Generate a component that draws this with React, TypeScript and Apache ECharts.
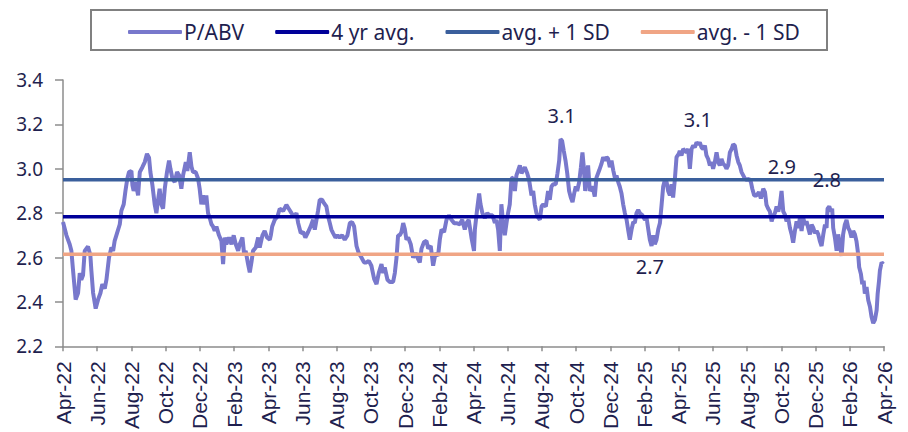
import React, { useEffect, useRef } from "react";
import * as echarts from "echarts";

// x tick labels (every two months, Apr-22 .. Apr-26)
const tickLabels = [
  "Apr-22", "Jun-22", "Aug-22", "Oct-22", "Dec-22", "Feb-23", "Apr-23", "Jun-23",
  "Aug-23", "Oct-23", "Dec-23", "Feb-24", "Apr-24", "Jun-24", "Aug-24", "Oct-24",
  "Dec-24", "Feb-25", "Apr-25", "Jun-25", "Aug-25", "Oct-25", "Dec-25", "Feb-26", "Apr-26",
];

// P/ABV: [months since Apr-22, value]
const pabv: [number, number][] = [
  [0, 2.76], [0.2, 2.7], [0.39, 2.66], [0.49, 2.63], [0.59, 2.54], [0.74, 2.41], [0.88, 2.44],
  [0.98, 2.53], [1.07, 2.5], [1.17, 2.52], [1.27, 2.63], [1.46, 2.65], [1.6, 2.61], [1.66, 2.54],
  [1.76, 2.44], [1.91, 2.37], [2.05, 2.41], [2.19, 2.44], [2.3, 2.48], [2.44, 2.46], [2.54, 2.5],
  [2.69, 2.6], [2.83, 2.645], [2.93, 2.63], [3.02, 2.675], [3.12, 2.7], [3.32, 2.75], [3.41, 2.81],
  [3.55, 2.84], [3.65, 2.9], [3.76, 2.955], [3.86, 2.985], [4.0, 2.99], [4.06, 2.925], [4.13, 2.9],
  [4.25, 2.94], [4.39, 2.88], [4.49, 2.985], [4.64, 3.007], [4.78, 3.03], [4.91, 3.067], [5.03, 3.05],
  [5.11, 2.985], [5.23, 2.925], [5.36, 2.84], [5.46, 2.8], [5.56, 2.86], [5.65, 2.91], [5.75, 2.84],
  [5.85, 2.82], [5.95, 2.91], [6.08, 2.985], [6.2, 3.037], [6.28, 3.0], [6.4, 2.955], [6.53, 2.94],
  [6.67, 2.985], [6.79, 2.97], [6.92, 2.91], [7.02, 2.97], [7.18, 3.03], [7.27, 2.99], [7.41, 3.074],
  [7.51, 3.01], [7.6, 2.985], [7.76, 2.985], [7.9, 2.955], [7.99, 2.91], [8.09, 2.84], [8.19, 2.88],
  [8.29, 2.84], [8.38, 2.88], [8.48, 2.8], [8.58, 2.778], [8.68, 2.75], [8.77, 2.74], [8.87, 2.72],
  [8.97, 2.74], [9.12, 2.7], [9.26, 2.675], [9.36, 2.57], [9.46, 2.69], [9.55, 2.66], [9.71, 2.69],
  [9.85, 2.66], [9.98, 2.7], [10.1, 2.66], [10.24, 2.63], [10.33, 2.66], [10.49, 2.69], [10.59, 2.615],
  [10.68, 2.63], [10.82, 2.57], [10.92, 2.533], [11.02, 2.58], [11.11, 2.63], [11.27, 2.645],
  [11.41, 2.69], [11.5, 2.645], [11.66, 2.7], [11.79, 2.72], [11.93, 2.69], [12.09, 2.68],
  [12.15, 2.7], [12.23, 2.74], [12.38, 2.77], [12.54, 2.785], [12.67, 2.82], [12.87, 2.81],
  [13.06, 2.837], [13.2, 2.82], [13.36, 2.8], [13.51, 2.785], [13.65, 2.8], [13.75, 2.755],
  [13.9, 2.71], [14.04, 2.715], [14.17, 2.69], [14.33, 2.715], [14.48, 2.74], [14.62, 2.77],
  [14.72, 2.726], [14.82, 2.77], [14.91, 2.81], [15.01, 2.86], [15.15, 2.86], [15.26, 2.845],
  [15.4, 2.83], [15.5, 2.785], [15.6, 2.755], [15.69, 2.726], [15.79, 2.71], [15.93, 2.69],
  [16.05, 2.7], [16.18, 2.69], [16.32, 2.7], [16.47, 2.68], [16.63, 2.7], [16.77, 2.755], [16.9, 2.76],
  [17.02, 2.74], [17.16, 2.652], [17.29, 2.62], [17.45, 2.6], [17.6, 2.578], [17.74, 2.578],
  [17.88, 2.585], [18.03, 2.563], [18.19, 2.504], [18.33, 2.48], [18.46, 2.53], [18.62, 2.57],
  [18.72, 2.53], [18.81, 2.555], [18.97, 2.5], [19.11, 2.49], [19.3, 2.49], [19.4, 2.53], [19.5, 2.6],
  [19.59, 2.7], [19.69, 2.7], [19.79, 2.715], [19.89, 2.755], [19.98, 2.73], [20.08, 2.68],
  [20.18, 2.69], [20.33, 2.66], [20.47, 2.6], [20.61, 2.62], [20.72, 2.6], [20.86, 2.578],
  [20.96, 2.64], [21.11, 2.67], [21.25, 2.675], [21.35, 2.64], [21.5, 2.652], [21.64, 2.563],
  [21.78, 2.62], [21.93, 2.608], [22.03, 2.68], [22.13, 2.726], [22.28, 2.715], [22.42, 2.77],
  [22.56, 2.79], [22.71, 2.77], [22.87, 2.755], [23.0, 2.755], [23.2, 2.75], [23.34, 2.77],
  [23.49, 2.726], [23.59, 2.755], [23.72, 2.77], [23.88, 2.69], [24.03, 2.63],
  [24.08, 2.726], [24.21, 2.815], [24.33, 2.889], [24.41, 2.84], [24.52, 2.8], [24.66, 2.778],
  [24.8, 2.8], [24.95, 2.79], [25.11, 2.79], [25.25, 2.756], [25.34, 2.77], [25.44, 2.726],
  [25.54, 2.63], [25.63, 2.84], [25.73, 2.756], [25.83, 2.7], [25.93, 2.756], [26.02, 2.8],
  [26.12, 2.84], [26.22, 2.956], [26.32, 2.96], [26.42, 2.9], [26.51, 2.97], [26.61, 2.993],
  [26.71, 3.015], [26.81, 2.98], [26.9, 2.993], [27.0, 3.007], [27.14, 2.98], [27.25, 2.95],
  [27.39, 2.88], [27.49, 2.9], [27.58, 2.84], [27.68, 2.8], [27.78, 2.78], [27.88, 2.77],
  [27.98, 2.83], [28.07, 2.84], [28.23, 2.83], [28.36, 2.9], [28.46, 2.86], [28.56, 2.92],
  [28.66, 2.93], [28.81, 2.93], [28.91, 2.98], [29.01, 3.037], [29.09, 3.133], [29.18, 3.126],
  [29.28, 3.08], [29.38, 3.037], [29.48, 2.98], [29.59, 2.9], [29.69, 2.87], [29.79, 2.85],
  [29.89, 2.89], [29.98, 2.92], [30.06, 2.9], [30.18, 2.94], [30.28, 3.007], [30.37, 3.074],
  [30.45, 3.007], [30.53, 2.9], [30.61, 2.97], [30.7, 3.015], [30.8, 2.9], [30.96, 2.92],
  [31.09, 2.875], [31.19, 2.96], [31.35, 2.993], [31.48, 3.022], [31.58, 3.052], [31.68, 3.037],
  [31.78, 3.052], [31.87, 3.045], [31.97, 3.007], [32.07, 3.037], [32.17, 2.993], [32.28, 2.955],
  [32.36, 2.97], [32.46, 2.94], [32.55, 2.92], [32.65, 2.89], [32.75, 2.84], [32.85, 2.8],
  [32.95, 2.77], [33.04, 2.726], [33.14, 2.681], [33.24, 2.726], [33.34, 2.76], [33.43, 2.756],
  [33.53, 2.8], [33.63, 2.815], [33.73, 2.8], [33.88, 2.79], [34.02, 2.77], [34.12, 2.778],
  [34.22, 2.726], [34.31, 2.68], [34.41, 2.652], [34.51, 2.7], [34.6, 2.66], [34.7, 2.68],
  [34.8, 2.726], [34.9, 2.756], [35.0, 2.84], [35.09, 2.92], [35.19, 2.95], [35.29, 2.94],
  [35.38, 2.9], [35.48, 2.88], [35.58, 2.93], [35.67, 2.87], [35.77, 2.95], [35.87, 3.052],
  [36.0, 3.067], [36.06, 3.081], [36.16, 3.06], [36.26, 3.089], [36.36, 3.081], [36.45, 3.074],
  [36.55, 3.089], [36.65, 3.0], [36.75, 3.089], [36.84, 3.104], [36.94, 3.096], [37.04, 3.119],
  [37.14, 3.11], [37.23, 3.119], [37.33, 3.096], [37.43, 3.089], [37.53, 3.104], [37.62, 3.06],
  [37.72, 3.044], [37.82, 3.015], [37.92, 3.03], [38.01, 3.0], [38.11, 3.03], [38.21, 3.074],
  [38.31, 3.03], [38.4, 3.015], [38.5, 3.044], [38.6, 3.022], [38.7, 3.015], [38.79, 3.0],
  [38.89, 3.015], [38.99, 3.074], [39.09, 3.089], [39.18, 3.11], [39.28, 3.104], [39.38, 3.06],
  [39.48, 3.03], [39.57, 3.015], [39.67, 2.985], [39.77, 2.97], [39.87, 2.955], [39.96, 2.95],
  [40.1, 2.955], [40.22, 2.94], [40.3, 2.91], [40.41, 2.88], [40.55, 2.88], [40.69, 2.895],
  [40.8, 2.866], [40.94, 2.91], [41.04, 2.895], [41.13, 2.837], [41.23, 2.82], [41.33, 2.807],
  [41.43, 2.763], [41.52, 2.785], [41.62, 2.8], [41.72, 2.83], [41.82, 2.807], [41.91, 2.837],
  [42.01, 2.9], [42.11, 2.807], [42.21, 2.793], [42.3, 2.763], [42.4, 2.778], [42.5, 2.733],
  [42.6, 2.704], [42.69, 2.667], [42.79, 2.72], [42.89, 2.763], [42.99, 2.733], [43.08, 2.778],
  [43.18, 2.72], [43.28, 2.778], [43.38, 2.748], [43.47, 2.763], [43.57, 2.733], [43.67, 2.704],
  [43.77, 2.748], [43.87, 2.733], [43.96, 2.71], [44.06, 2.72], [44.16, 2.704], [44.25, 2.674],
  [44.35, 2.652], [44.45, 2.704], [44.55, 2.748], [44.64, 2.733], [44.7, 2.82], [44.8, 2.83],
  [44.9, 2.807], [44.97, 2.82], [45.03, 2.733], [45.13, 2.69], [45.23, 2.63], [45.32, 2.704],
  [45.42, 2.66], [45.52, 2.607], [45.61, 2.704], [45.71, 2.748], [45.81, 2.77], [45.91, 2.733],
  [46.0, 2.72], [46.1, 2.69], [46.2, 2.72], [46.3, 2.704], [46.39, 2.674], [46.49, 2.615],
  [46.55, 2.556], [46.65, 2.526], [46.73, 2.48], [46.81, 2.496], [46.88, 2.437], [46.98, 2.467],
  [47.08, 2.407], [47.18, 2.378], [47.27, 2.333], [47.37, 2.304], [47.47, 2.319], [47.57, 2.363],
  [47.63, 2.437], [47.71, 2.496], [47.76, 2.541], [47.86, 2.578], [47.96, 2.57],
];

const avg4yr = 2.784;
const avgPlus1SD = 2.951;
const avgMinus1SD = 2.615;

// annotations: text, month, value
const annoText = ["3.1", "3.1", "2.9", "2.8", "2.6", "2.7"];
const annoMonth = [29.15, 37.12, 42.03, 44.66, 48.05, 34.31];
const annoValue = [3.24, 3.222, 3.011, 2.953, 2.707, 2.56];

const TEXT = "#1f1f4f";
const FONT = "'Noto Sans', sans-serif";

export default function App() {
  const ref = useRef<HTMLDivElement>(null);
  useEffect(() => {
    document.body.style.margin = "0";
    const chart = echarts.init(ref.current!, null, { renderer: "svg" });
    const flat = (v: number) => [[0, v], [48, v]];
    chart.setOption({
      animation: false,
      backgroundColor: "#ffffff",
      grid: { left: 63, right: 24, top: 80, bottom: 82 },
      graphic: [
        {
          type: "rect",
          shape: { x: 91, y: 10, width: 736, height: 40 },
          style: { fill: "none", stroke: "#808080", lineWidth: 2 },
          z: 0,
        },
      ],
      legend: {
        left: 123,
        top: 15,
        icon: "roundRect",
        itemWidth: 54,
        itemHeight: 4,
        itemGap: 31,
        data: ["P/ABV", "4 yr avg.", "avg. + 1 SD", "avg. - 1 SD"],
        textStyle: { color: TEXT, fontSize: 21, fontFamily: FONT, padding: [0, 0, 0, -3], lineHeight: 24 },
      },
      xAxis: {
        type: "value",
        min: 0,
        max: 48,
        interval: 2,
        splitLine: { show: false },
        axisLine: { lineStyle: { color: "#8c8c8c", width: 1.5 } },
        axisTick: { show: true, length: 5, lineStyle: { color: "#8c8c8c", width: 1.5 } },
        axisLabel: {
          rotate: 90,
          margin: 15,
          showMinLabel: true,
          showMaxLabel: true,
          color: TEXT,
          fontSize: 21,
          fontFamily: "'Liberation Sans', Arial, sans-serif",
          formatter: (v: number) => tickLabels[Math.round(v / 2)] ?? "",
        },
      },
      yAxis: {
        type: "value",
        min: 2.2,
        max: 3.4,
        interval: 0.2,
        splitLine: { show: false },
        axisLine: { show: true, lineStyle: { color: "#8c8c8c", width: 1.5 } },
        axisTick: { show: true, length: 8, lineStyle: { color: "#8c8c8c", width: 1.5 } },
        axisLabel: {
          margin: 20,
          color: TEXT,
          fontSize: 19,
          fontFamily: FONT,
          formatter: (v: number) => v.toFixed(1),
        },
      },
      series: [
        {
          name: "P/ABV",
          type: "line",
          data: pabv,
          symbol: "none",
          color: "#7878cc",
          lineStyle: { width: 4, color: "#7878cc" },
          z: 2,
          markPoint: {
            symbol: "circle",
            symbolSize: 1,
            itemStyle: { color: "rgba(0,0,0,0)" },
            label: {
              show: true,
              position: "inside",
              color: TEXT,
              fontSize: 20,
              fontFamily: FONT,
              formatter: (p: any) => p.name,
            },
            data: annoText.map((t, i) => ({ name: t, coord: [annoMonth[i], annoValue[i]] })),
          },
        },
        {
          name: "4 yr avg.",
          type: "line",
          data: flat(avg4yr),
          symbol: "none",
          color: "#000099",
          lineStyle: { width: 3.5, color: "#000099" },
          z: 3,
        },
        {
          name: "avg. + 1 SD",
          type: "line",
          data: flat(avgPlus1SD),
          symbol: "none",
          color: "#3a5f9c",
          lineStyle: { width: 3.5, color: "#3a5f9c" },
          z: 3,
        },
        {
          name: "avg. - 1 SD",
          type: "line",
          data: flat(avgMinus1SD),
          symbol: "none",
          color: "#f0a585",
          lineStyle: { width: 3.5, color: "#f0a585" },
          z: 3,
        },
      ],
    });
    return () => chart.dispose();
  }, []);
  return <div ref={ref} style={{ width: 908, height: 432 }} />;
}
